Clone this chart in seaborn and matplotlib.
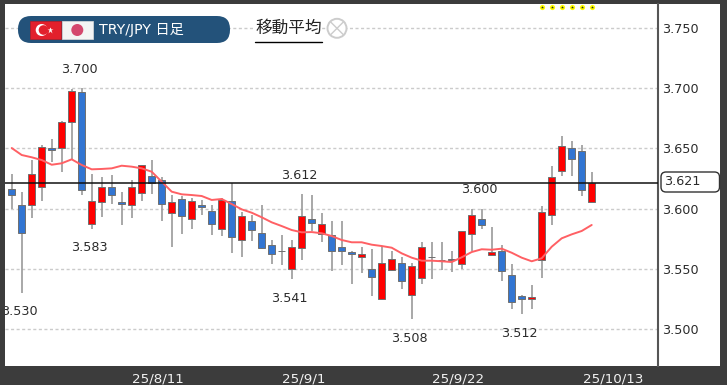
# TRY/JPY daily candles with moving average
import numpy as np
import pandas as pd
import seaborn as sns
import matplotlib.pyplot as plt
from matplotlib.lines import Line2D
from matplotlib.patches import Rectangle, Circle, FancyBboxPatch
from matplotlib.transforms import IdentityTransform

opens = [3.616, 3.603, 3.603, 3.618, 3.650, 3.650, 3.672, 3.697, 3.587, 3.605, 3.618, 3.605, 3.603, 3.613, 3.627,
         3.624, 3.596, 3.608, 3.591, 3.603, 3.598, 3.583, 3.606, 3.574, 3.590, 3.580, 3.570, 3.565, 3.550, 3.567,
         3.591, 3.579, 3.578, 3.568, 3.564, 3.560, 3.550, 3.525, 3.549, 3.555, 3.528, 3.542, 3.560, 3.557, 3.558,
         3.554, 3.579, 3.591, 3.561, 3.565, 3.545, 3.527, 3.525, 3.557, 3.595, 3.631, 3.650, 3.648, 3.605]
highs = [3.629, 3.614, 3.640, 3.653, 3.658, 3.673, 3.699, 3.700, 3.629, 3.626, 3.628, 3.614, 3.624, 3.636, 3.640,
         3.626, 3.611, 3.610, 3.609, 3.607, 3.603, 3.609, 3.621, 3.597, 3.595, 3.603, 3.574, 3.578, 3.574, 3.612,
         3.611, 3.596, 3.590, 3.590, 3.565, 3.568, 3.566, 3.569, 3.565, 3.560, 3.555, 3.572, 3.572, 3.572, 3.565,
         3.581, 3.600, 3.600, 3.585, 3.570, 3.554, 3.528, 3.536, 3.602, 3.635, 3.660, 3.656, 3.653, 3.630]
lows = [3.600, 3.530, 3.592, 3.606, 3.639, 3.630, 3.641, 3.611, 3.583, 3.593, 3.604, 3.586, 3.592, 3.606, 3.612,
        3.590, 3.568, 3.579, 3.583, 3.595, 3.578, 3.577, 3.563, 3.560, 3.573, 3.566, 3.554, 3.553, 3.541, 3.557,
        3.581, 3.572, 3.548, 3.553, 3.537, 3.546, 3.527, 3.524, 3.548, 3.533, 3.508, 3.537, 3.541, 3.549, 3.547,
        3.550, 3.565, 3.583, 3.561, 3.540, 3.516, 3.512, 3.516, 3.542, 3.586, 3.627, 3.627, 3.610, 3.605]
closes = [3.611, 3.580, 3.629, 3.651, 3.649, 3.672, 3.698, 3.615, 3.606, 3.618, 3.611, 3.604, 3.618, 3.636, 3.621,
          3.604, 3.605, 3.594, 3.606, 3.601, 3.587, 3.607, 3.576, 3.594, 3.582, 3.567, 3.562, 3.565, 3.568, 3.594,
          3.588, 3.587, 3.565, 3.565, 3.562, 3.562, 3.543, 3.555, 3.558, 3.540, 3.552, 3.568, 3.560, 3.557, 3.557,
          3.581, 3.595, 3.586, 3.564, 3.548, 3.522, 3.525, 3.526, 3.597, 3.626, 3.652, 3.641, 3.615, 3.621]
ma = [3.6503, 3.6445, 3.6426, 3.6403, 3.6364, 3.6376, 3.6409, 3.6362, 3.6326, 3.6329, 3.6334, 3.6356, 3.6348, 3.6334,
      3.6306, 3.6223, 3.6140, 3.6118, 3.6112, 3.6104, 3.6071, 3.6079, 3.6037, 3.5993, 3.5965, 3.5927, 3.5885, 3.5854,
      3.5821, 3.5802, 3.5804, 3.5794, 3.5771, 3.5738, 3.5719, 3.5719, 3.5699, 3.5688, 3.5674, 3.5627, 3.5591, 3.5566,
      3.5566, 3.5561, 3.5555, 3.5594, 3.5638, 3.5661, 3.5657, 3.5666, 3.5632, 3.5591, 3.5561, 3.5586, 3.5682, 3.5752,
      3.5785, 3.5813, 3.5863]

y_ticks = [3.500, 3.550, 3.600, 3.650, 3.700, 3.750]
date_ticks = [14.63, 29.23, 44.63, 60.1]
date_labels = ['25/8/11', '25/9/1', '25/9/22', '25/10/13']
last_price = 3.621

# (candle, price, text, 1 above / -1 below)
peak_labels = [(7, 3.700, '3.700', 1), (8, 3.583, '3.583', -1), (1, 3.530, '3.530', -1),
               (29, 3.612, '3.612', 1), (28, 3.541, '3.541', -1), (40, 3.508, '3.508', -1),
               (47, 3.600, '3.600', 1), (51, 3.512, '3.512', -1)]
star_candles = [53, 54, 55, 56, 57, 58]

DARK = '#3c3c3c'
W, H = 727, 385


def fx(x):
    return x / W


def fy(y):
    return 1 - y / H


def add_px(fig, patch):
    # patches given in image pixels, y flipped
    patch.set_transform(IdentityTransform())
    patch.set_zorder(5)
    fig.add_artist(patch)


sns.set_theme(style='white')
plt.rcParams['font.family'] = ['DejaVu Sans', 'Noto Sans CJK JP']

df = pd.DataFrame({'i': np.arange(len(opens)), 'open': opens, 'high': highs, 'low': lows, 'close': closes, 'ma': ma})
df['top'] = df[['open', 'close']].max(axis=1)
df['bottom'] = df[['open', 'close']].min(axis=1)
df['color'] = np.where(df['close'] > df['open'], '#ff0000', '#3275d2')
df.loc[df['close'] == df['open'], 'color'] = '#444444'

fig = plt.figure(figsize=(W / 100, H / 100), dpi=100, facecolor=DARK)
fig.add_artist(Rectangle((fx(658), fy(366)), 62 / W, 362 / H, transform=fig.transFigure, color='white', lw=0, zorder=-1))

ax = fig.add_axes([fx(5), fy(366), 653 / W, 362 / H], facecolor='white')
ax.set_xlim(-0.67, 64.63)
ax.set_ylim(3.469, 3.7701)

ax.hlines(y_ticks, -0.67, 64.63, color='#cbcbcb', lw=1, linestyle=(0, (2.2, 1.8)), zorder=1)

ax.vlines(df['i'], df['low'], df['high'], color='#9a9a9a', lw=1.2, zorder=2)
ax.bar(df['i'], df['top'] - df['bottom'], bottom=df['bottom'], width=0.74, color=df['color'],
       edgecolor='#6f6f6f', linewidth=0.7, zorder=3)

sns.lineplot(data=df, x='i', y='ma', color='#ff6064', lw=1.4, ax=ax, zorder=4, errorbar=None)
ax.axhline(last_price, color='#111111', lw=1.1, zorder=5)

for i, price, text, side in peak_labels:
    ax.annotate(text, (i, price), xytext=(-2, 13.7 * side), textcoords='offset points', ha='center', va='center',
                fontsize=9.2, color='#2b2b2b', clip_on=True, zorder=6)

ax.scatter(star_candles, [3.7676] * len(star_candles), marker='o', s=14, color='#ffff00', linewidths=0, zorder=6)
ax.scatter(star_candles, [3.7676] * len(star_candles), marker='*', s=5, color='#333333', linewidths=0, zorder=7)

ax.set_xlabel('')
ax.set_ylabel('')
ax.yaxis.tick_right()
ax.set_yticks(y_ticks)
ax.set_yticklabels([f'{v:.3f}' for v in y_ticks])
ax.set_xticks(date_ticks)
ax.set_xticklabels(date_labels)
ax.tick_params(axis='y', length=0, pad=3, labelsize=9.2, labelcolor='#2b2b2b')
ax.tick_params(axis='x', length=0, pad=5, labelsize=9.7, labelcolor='#f2f2f2')
for side in ['top', 'left', 'bottom']:
    ax.spines[side].set_visible(False)
ax.spines['right'].set_color('#555555')
ax.spines['right'].set_linewidth(1.5)

# header pill with flags
add_px(fig, FancyBboxPatch((18, H - 43), 212, 27, boxstyle='round,pad=0,rounding_size=13', fc='#23527a', ec='none'))
add_px(fig, Rectangle((30, H - 39), 31, 18, fc='#e2202c', ec='#b51c25', lw=0.5))
add_px(fig, Rectangle((62, H - 39), 31, 18, fc='#f4f4f4', ec='#dddddd', lw=0.5))
add_px(fig, Circle((41.7, H - 30), 6, fc='white', ec='none'))
add_px(fig, Circle((43.5, H - 30), 4.8, fc='#e2202c', ec='none'))
fig.add_artist(Line2D([50], [H - 30], marker='*', ms=5, mfc='white', mec='none', ls='',
                      transform=IdentityTransform(), zorder=6))
add_px(fig, Circle((77.3, H - 30), 6, fc='#d4476d', ec='none'))
fig.text(fx(99), fy(30), 'TRY/JPY 日足', color='white', fontsize=10.2, va='center', ha='left', zorder=6,
         family=['DejaVu Sans', 'Noto Sans CJK JP'])

# moving average toggle
fig.text(fx(255), fy(28.5), '移動平均', color='#222222', fontsize=12, va='center', ha='left', zorder=6,
         family=['Noto Sans CJK JP', 'DejaVu Sans'],
         bbox=dict(fc='white', ec='none', pad=0.5))
fig.add_artist(Line2D([fx(255), fx(322)], [fy(42.3), fy(42.3)], color='black', lw=1, transform=fig.transFigure, zorder=6))
add_px(fig, Circle((337, H - 28.3), 9.5, fc='white', ec='#cccccc', lw=1.4))
d = 6.5
for sgn in [1, -1]:
    fig.add_artist(Line2D([337 - d, 337 + d], [H - 28.3 - sgn * d, H - 28.3 + sgn * d], color='#cccccc', lw=1,
                          transform=IdentityTransform(), zorder=6))

# last price box
add_px(fig, FancyBboxPatch((661, H - 192), 58.5, 20, boxstyle='round,pad=0,rounding_size=5', fc='white',
                           ec='#333333', lw=1))
fig.text(fx(664), fy(181.5), f'{last_price:.3f}', color='#2b2b2b', fontsize=9.2, va='center', ha='left', zorder=6)

fig.savefig('out.png', dpi=100, facecolor=DARK)
